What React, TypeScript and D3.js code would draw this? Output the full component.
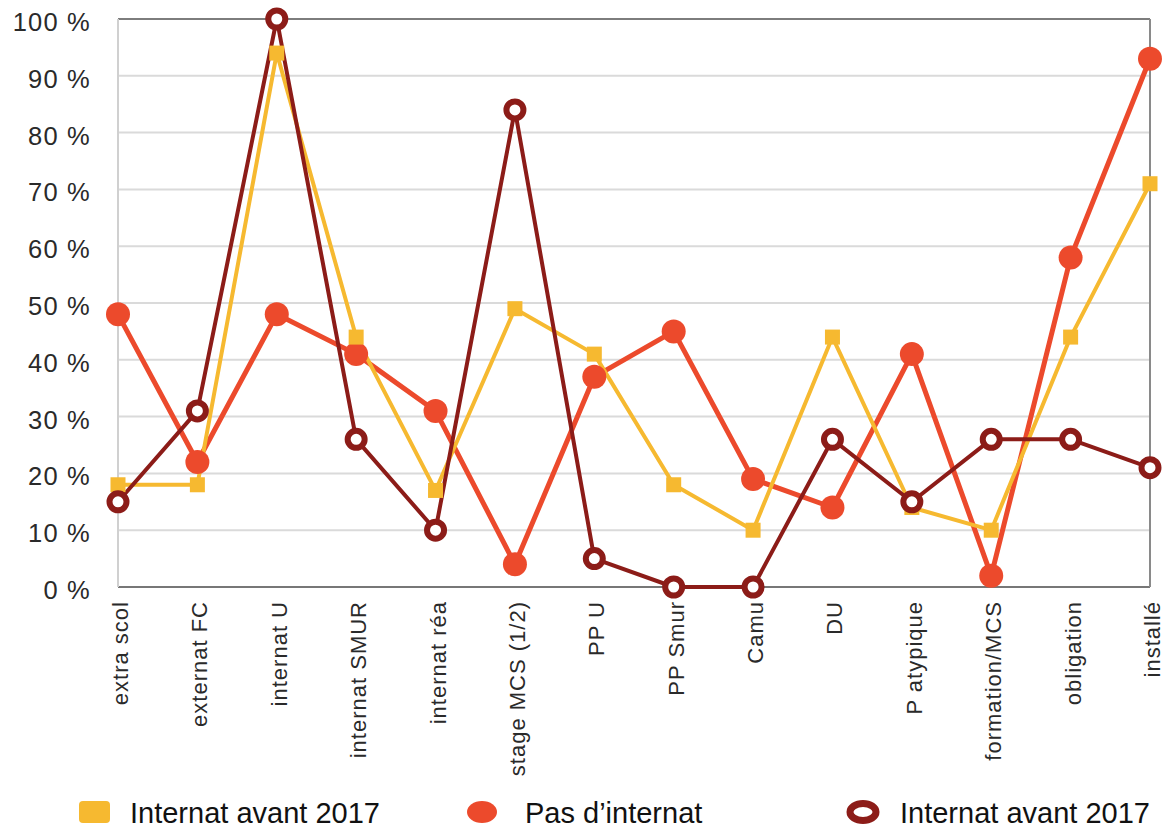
import React from "react";
import * as d3 from "d3";

// Categories along the x axis
const categories = [
  "extra scol",
  "externat FC",
  "internat U",
  "internat SMUR",
  "internat réa",
  "stage MCS (1/2)",
  "PP U",
  "PP Smur",
  "Camu",
  "DU",
  "P atypique",
  "formation/MCS",
  "obligation",
  "installé",
];

// Series values (%)
const internatAvant2017A = [18, 18, 94, 44, 17, 49, 41, 18, 10, 44, 14, 10, 44, 71];
const pasDInternat = [48, 22, 48, 41, 31, 4, 37, 45, 19, 14, 41, 2, 58, 93];
const internatAvant2017B = [15, 31, 100, 26, 10, 84, 5, 0, 0, 26, 15, 26, 26, 21];

const yTicks = [0, 10, 20, 30, 40, 50, 60, 70, 80, 90, 100];

const legendLabels = ["Internat avant 2017", "Pas d’internat", "Internat avant 2017"];

const W = 1171;
const H = 831;
const left = 118;
const right = 1150;
const top = 19;
const bottom = 587;

const YELLOW = "#F6B930";
const RED = "#EC4A2C";
const DARK = "#8C1C18";
const FONT = "'Liberation Sans', Arial, Helvetica, sans-serif";

export default function App() {
  const x = d3.scalePoint<string>().domain(categories).range([left, right]).padding(0);
  const y = d3.scaleLinear().domain([0, 100]).range([bottom, top]);

  const line = d3
    .line<number>()
    .x((_, i) => x(categories[i]) as number)
    .y((v) => y(v));

  return (
    <svg
      width={W}
      height={H}
      style={{ position: "absolute", left: 0, top: 0, background: "#fff" }}
      fontFamily={FONT}
    >
      {/* horizontal grid */}
      {yTicks.map((t) => (
        <line
          key={"g" + t}
          x1={left}
          x2={right}
          y1={y(t)}
          y2={y(t)}
          stroke={t === 100 ? "#7d7d7d" : t === 0 ? "#777" : "#dadada"}
          strokeWidth={2}
        />
      ))}
      {/* frame edges */}
      <line x1={left} x2={left} y1={top} y2={bottom} stroke="#d0d0d0" strokeWidth={2} />
      <line x1={right} x2={right} y1={top} y2={bottom} stroke="#8a8a8a" strokeWidth={2} />

      {/* y axis labels */}
      {yTicks.map((t) => (
        <text
          key={"yl" + t}
          x={91}
          y={y(t) + 3}
          dy="0.35em"
          textAnchor="end"
          fontSize={25.5}
          letterSpacing={1.2}
          fill="#2a2a2a"
        >
          {t} %
        </text>
      ))}

      {/* x axis labels */}
      {categories.map((c) => {
        const cx = (x(c) as number) + 10;
        return (
          <text
            key={"xl" + c}
            transform={`translate(${cx},${601}) rotate(-90)`}
            textAnchor="end"
            fontSize={22}
            letterSpacing={1}
            fill="#2a2a2a"
          >
            {c}
          </text>
        );
      })}

      {/* lines */}
      <path d={line(pasDInternat) || ""} fill="none" stroke={RED} strokeWidth={5} strokeLinejoin="round" />
      <path d={line(internatAvant2017A) || ""} fill="none" stroke={YELLOW} strokeWidth={4} strokeLinejoin="round" />
      <path d={line(internatAvant2017B) || ""} fill="none" stroke={DARK} strokeWidth={4} strokeLinejoin="round" />

      {/* markers */}
      {pasDInternat.map((v, i) => (
        <circle key={"r" + i} cx={x(categories[i])} cy={y(v)} r={12} fill={RED} />
      ))}
      {internatAvant2017A.map((v, i) => (
        <rect
          key={"s" + i}
          x={(x(categories[i]) as number) - 7.5}
          y={y(v) - 7.5}
          width={15}
          height={15}
          fill={YELLOW}
        />
      ))}
      {internatAvant2017B.map((v, i) => (
        <circle
          key={"o" + i}
          cx={x(categories[i])}
          cy={y(v)}
          r={8.5}
          fill="#fff"
          stroke={DARK}
          strokeWidth={6}
        />
      ))}

      {/* legend */}
      <rect x={79} y={801} width={31} height={22} rx={4} fill={YELLOW} />
      <text x={130} y={823} fontSize={29} fill="#111">
        {legendLabels[0]}
      </text>
      <ellipse cx={482} cy={812} rx={15} ry={11} fill={RED} />
      <text x={525} y={823} fontSize={29} fill="#111">
        {legendLabels[1]}
      </text>
      <ellipse cx={863} cy={812} rx={13} ry={8.5} fill="#fff" stroke={DARK} strokeWidth={7} />
      <text x={900} y={823} fontSize={29} fill="#111">
        {legendLabels[2]}
      </text>
    </svg>
  );
}
